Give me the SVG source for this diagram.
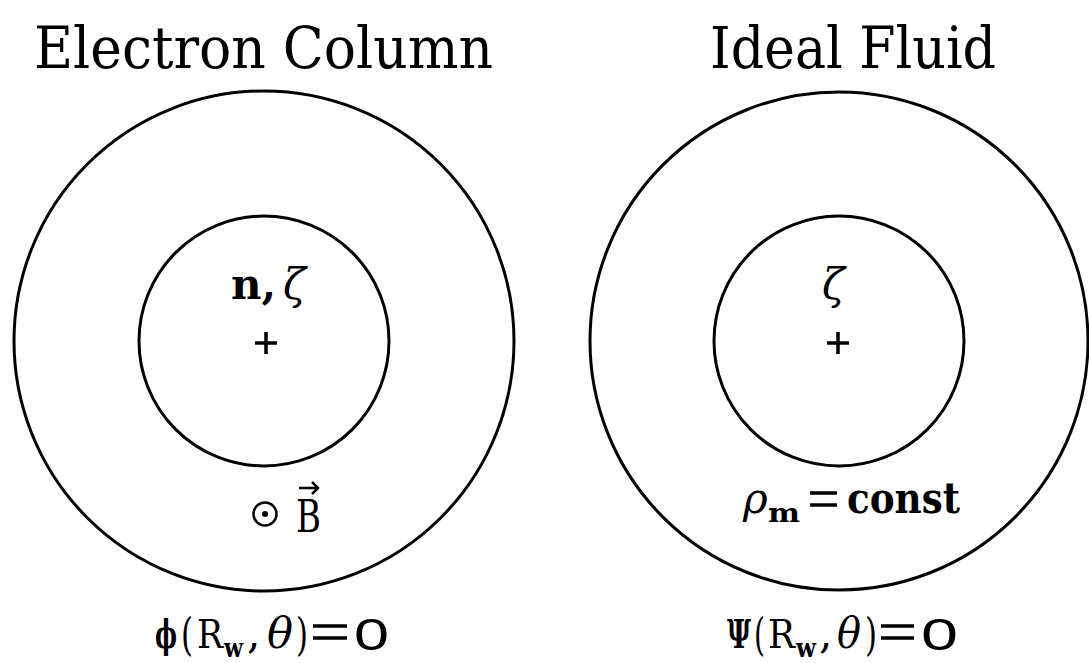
<svg xmlns="http://www.w3.org/2000/svg" width="1089" height="663" viewBox="0 0 1089 663">
<style>
.ring{fill:none;stroke:#000;stroke-width:3}
.title{font-family:"DejaVu Serif Condensed","DejaVu Serif",serif;font-size:57px;fill:#000}
.b{font-family:"DejaVu Serif",serif;font-weight:bold;fill:#000}
.i{font-family:"DejaVu Serif","Liberation Serif",serif;font-style:italic;fill:#000}
.r{font-family:"DejaVu Serif",serif;fill:#000}
.s{font-family:"Liberation Sans","DejaVu Sans",sans-serif;fill:#000}
.plus{stroke:#000;stroke-width:3.5;fill:none}
.eq{stroke:#000;stroke-width:3.5}
</style>
<rect width="1089" height="663" fill="#fff"/>
<g id="electron-column">
  <text class="title" x="34" y="68" textLength="459" lengthAdjust="spacingAndGlyphs">Electron Column</text>
  <circle class="ring" cx="264" cy="341" r="250"/>
  <circle class="ring" cx="264" cy="341" r="125"/>
  <text class="b" x="231" y="299" font-size="42">n,</text>
  <text class="i" x="283" y="299" font-size="42">ζ</text>
  <path class="plus" d="M255 343h22M266 332v22"/>
  <circle cx="265" cy="514" r="11.5" fill="none" stroke="#000" stroke-width="2.5"/>
  <circle cx="265" cy="514" r="3" fill="#000"/>
  <text class="r" x="296" y="532" font-size="44" textLength="25" lengthAdjust="spacingAndGlyphs">B</text>
  <path d="M299 488h19M312 482l6 6l-6 6" fill="none" stroke="#000" stroke-width="2.5"/>
  <g id="boundary-left">
    <text class="b" x="155" y="648" font-size="40" textLength="22" lengthAdjust="spacingAndGlyphs">ϕ</text>
    <text class="r" x="181" y="650" font-size="44" textLength="12" lengthAdjust="spacingAndGlyphs">(</text>
    <text class="r" x="197" y="648" font-size="40" textLength="26" lengthAdjust="spacingAndGlyphs">R</text>
    <text class="b" x="224" y="657" font-size="26" textLength="19" lengthAdjust="spacingAndGlyphs">w</text>
    <text class="r" x="247" y="648" font-size="42">,</text>
    <text class="i" x="267" y="648" font-size="42" textLength="26" lengthAdjust="spacingAndGlyphs">θ</text>
    <text class="r" x="296" y="650" font-size="44" textLength="12" lengthAdjust="spacingAndGlyphs">)</text>
    <path class="eq" d="M313 626h34M313 638h34"/>
    <text class="s" x="354" y="650" font-size="45" textLength="35" lengthAdjust="spacingAndGlyphs">0</text>
  </g>
</g>
<g id="ideal-fluid">
  <text class="title" x="710" y="68" textLength="286" lengthAdjust="spacingAndGlyphs">Ideal Fluid</text>
  <circle class="ring" cx="839" cy="341" r="249"/>
  <circle class="ring" cx="839" cy="341" r="125"/>
  <text class="i" x="822" y="299" font-size="42">ζ</text>
  <path class="plus" d="M827 343h22M838 332v22"/>
  <text class="i" x="743" y="513" font-size="42">ρ</text>
  <text class="b" x="768" y="522" font-size="26" textLength="32" lengthAdjust="spacingAndGlyphs">m</text>
  <path class="eq" d="M810 493h27M810 505h27"/>
  <text class="b" x="847" y="513" font-size="42" textLength="113" lengthAdjust="spacingAndGlyphs">const</text>
  <g id="boundary-right">
    <text class="b" x="727" y="648" font-size="40" textLength="24" lengthAdjust="spacingAndGlyphs">Ψ</text>
    <text class="r" x="754" y="650" font-size="44" textLength="11" lengthAdjust="spacingAndGlyphs">(</text>
    <text class="r" x="768" y="648" font-size="40" textLength="27" lengthAdjust="spacingAndGlyphs">R</text>
    <text class="b" x="796" y="657" font-size="26" textLength="20" lengthAdjust="spacingAndGlyphs">w</text>
    <text class="r" x="819" y="648" font-size="42">,</text>
    <text class="i" x="837" y="648" font-size="42" textLength="24" lengthAdjust="spacingAndGlyphs">θ</text>
    <text class="r" x="865" y="650" font-size="44" textLength="12" lengthAdjust="spacingAndGlyphs">)</text>
    <path class="eq" d="M881 626h33M881 638h33"/>
    <text class="s" x="921" y="650" font-size="45" textLength="37" lengthAdjust="spacingAndGlyphs">0</text>
  </g>
</g>
</svg>
